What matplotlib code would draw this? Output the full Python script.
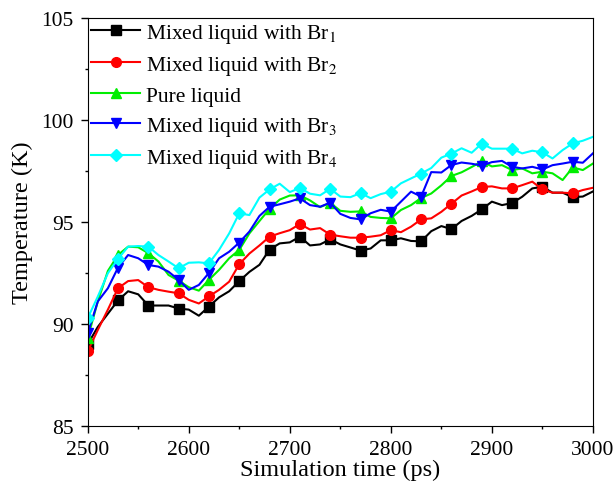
import numpy as np
import matplotlib
matplotlib.use("Agg")
import matplotlib.pyplot as plt
from matplotlib.ticker import MultipleLocator

plt.rcParams['font.family'] = ['Liberation Serif', 'DejaVu Serif']
plt.rcParams['mathtext.fontset'] = 'stix'

# simulation time (ps), one sample every 10 ps
time_ps = np.arange(2500, 3001, 10)

br1 = [89.0, 89.85, 90.5, 91.15, 91.6, 91.45, 90.9, 90.9, 90.9, 90.75,
       90.7, 90.4, 90.85, 91.3, 91.6, 92.1, 92.55, 92.9, 93.65, 93.95,
       94.0, 94.28, 93.85, 93.9, 94.15, 93.9, 93.75, 93.6, 93.7, 94.1,
       94.1, 94.2, 94.07, 94.05, 94.55, 94.8, 94.65, 95.05, 95.3, 95.62,
       96.0, 95.83, 95.93, 96.24, 96.65, 96.73, 96.44, 96.44, 96.22, 96.25,
       96.5]
br2 = [88.65, 89.7, 90.7, 91.75, 92.1, 92.15, 91.8, 91.67, 91.58, 91.5,
       91.18, 91.0, 91.35, 91.67, 92.07, 92.93, 93.45, 93.85, 94.28, 94.45,
       94.6, 94.9, 94.63, 94.7, 94.38, 94.3, 94.23, 94.23, 94.28, 94.35,
       94.6, 94.5, 94.77, 95.13, 95.18, 95.5, 95.9, 96.3, 96.5, 96.72,
       96.75, 96.65, 96.65, 96.81, 96.98, 96.6, 96.44, 96.44, 96.41, 96.57,
       96.68]
pure = [89.3, 91.1, 92.6, 93.38, 93.79, 93.76, 93.47, 93.06, 92.4, 92.12,
        91.8, 91.63, 92.16, 92.65, 93.22, 93.63, 94.44, 95.05, 95.65, 96.1,
        96.3, 96.31, 96.06, 95.73, 95.94, 95.55, 95.5, 95.52, 95.25, 95.2,
        95.18, 95.59, 95.83, 96.18, 96.4, 96.8, 97.26, 97.44, 97.7, 97.98,
        97.73, 97.79, 97.55, 97.63, 97.39, 97.47, 97.39, 97.06, 97.68, 97.55,
        97.87]
br3 = [89.54, 91.1, 91.75, 92.76, 93.38, 93.22, 92.89, 92.81, 92.56, 92.16,
       91.67, 91.91, 92.5, 93.22, 93.54, 93.99, 94.53, 95.3, 95.75, 95.87,
       96.0, 96.16, 95.83, 95.75, 95.95, 95.4, 95.2, 95.13, 95.43, 95.6,
       95.51, 96.0, 96.49, 96.25, 97.45, 97.43, 97.8, 97.92, 97.86, 97.77,
       97.94, 98.0, 97.71, 97.63, 97.71, 97.58, 97.79, 97.87, 97.96, 97.91,
       98.37]
br4 = [90.28, 91.34, 92.49, 93.19, 93.79, 93.82, 93.79, 93.38, 93.06, 92.73,
       93.0, 93.02, 92.97, 93.63, 94.44, 95.43, 95.34, 96.2, 96.6, 96.88,
       96.47, 96.67, 96.39, 96.31, 96.63, 96.25, 96.22, 96.42, 96.17, 96.37,
       96.49, 96.9, 97.14, 97.38, 97.65, 98.16, 98.36, 98.62, 98.4, 98.85,
       98.6, 98.6, 98.6, 98.37, 98.5, 98.42, 98.12, 98.53, 98.86, 98.99,
       99.18]

series = [
    (br1, 'Mixed liquid with Br$_1$', 'black', 's'),
    (br2, 'Mixed liquid with Br$_2$', 'red', 'o'),
    (pure, 'Pure liquid', '#00ee00', '^'),
    (br3, 'Mixed liquid with Br$_3$', 'blue', 'v'),
    (br4, 'Mixed liquid with Br$_4$', 'cyan', 'D'),
]

fig = plt.figure(figsize=(6.15, 4.89), dpi=100)
ax = fig.add_axes([0.1426, 0.1274, 0.8215, 0.8331])

for y, label, color, marker in series:
    ms = 6 if marker == 'D' else 7
    ax.plot(time_ps, y, color=color, lw=1.5, marker=marker, markersize=ms,
            markevery=slice(0, 49, 3), label=label)

ax.set_xlim(2500, 3000)
ax.set_ylim(85, 105)
ax.xaxis.set_major_locator(MultipleLocator(100))
ax.xaxis.set_minor_locator(MultipleLocator(50))
ax.yaxis.set_major_locator(MultipleLocator(5))
ax.yaxis.set_minor_locator(MultipleLocator(2.5))
ax.tick_params(which='both', direction='out', labelsize=15.5, width=1, pad=5)
ax.tick_params(which='major', length=5)
ax.tick_params(which='minor', length=2.5)
ax.set_xlabel('Simulation time (ps)', fontsize=17.5, labelpad=0)
ax.set_ylabel('Temperature (K)', fontsize=17.5, labelpad=6)

ax.legend(loc='upper left', frameon=False, fontsize=15.5, handlelength=2.3,
          handletextpad=0.25, labelspacing=0.42, borderaxespad=0.05,
          borderpad=0.1)

fig.savefig('out.png', dpi=100)
